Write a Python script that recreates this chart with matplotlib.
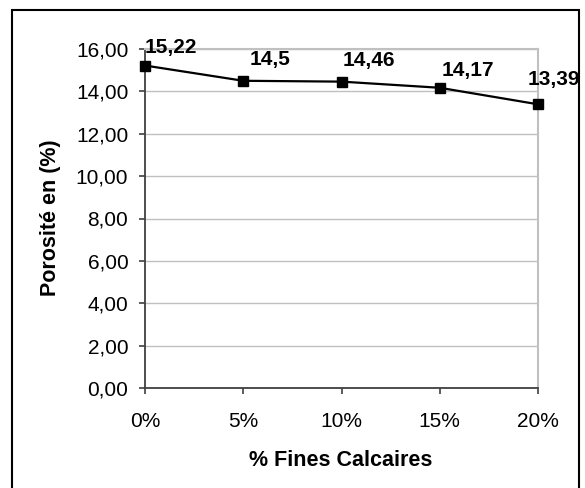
import matplotlib
matplotlib.use("Agg")
import matplotlib.pyplot as plt
from matplotlib.patches import Rectangle

categories = ["0%", "5%", "10%", "15%", "20%"]
porosite = [15.22, 14.5, 14.46, 14.17, 13.39]
labels = ["15,22", "14,5", "14,46", "14,17", "13,39"]
yticks = [0, 2, 4, 6, 8, 10, 12, 14, 16]
ytick_labels = ["0,00", "2,00", "4,00", "6,00", "8,00", "10,00", "12,00", "14,00", "16,00"]

# label offsets in pixels (layout)
label_offsets = [(26, 18), (27, 21), (27, 21), (28, 17), (16, 25)]

plt.rcParams['font.family'] = ['Liberation Sans', 'DejaVu Sans']

W, H = 585, 488
fig = plt.figure(figsize=(W / 100, H / 100), dpi=100)

# outer border
fig.patches.append(Rectangle((12 / W, -0.05), (579 - 12) / W, (H - 10) / H + 0.05,
                             transform=fig.transFigure, fill=False,
                             edgecolor='black', linewidth=1.5))

left, right, top, bottom = 145, 538, 49, 388
ax = fig.add_axes([left / W, 1 - bottom / H, (right - left) / W, (bottom - top) / H])

x = list(range(len(categories)))
ax.plot(x, porosite, color='black', linewidth=1.6, marker='s', markersize=6.5,
        clip_on=False, zorder=5)

for xi, yi, lab, (dx, dy) in zip(x, porosite, labels, label_offsets):
    ax.annotate(lab, (xi, yi), xytext=(dx * 0.72, dy * 0.72), textcoords='offset points',
                ha='center', va='center', fontsize=15, fontweight='bold',
                annotation_clip=False, zorder=6)

ax.set_xlim(0, 4)
ax.set_ylim(0, 16)
ax.set_xticks(x)
ax.set_xticklabels(categories, fontsize=15)
ax.set_yticks(yticks)
ax.set_yticklabels(ytick_labels, fontsize=15)
ax.yaxis.grid(True, color='#c0c0c0', linewidth=1.0)
ax.set_axisbelow(True)

for s in ['top', 'right']:
    ax.spines[s].set_color('#c0c0c0')
    ax.spines[s].set_linewidth(1.5)
for s in ['left', 'bottom']:
    ax.spines[s].set_color('#404040')
    ax.spines[s].set_linewidth(1.3)

ax.tick_params(axis='both', direction='out', length=4, width=1.2, color='#404040')
ax.tick_params(axis='y', pad=8)
ax.tick_params(axis='x', pad=13)

fig.text(341 / W, 1 - 460 / H, "% Fines Calcaires", ha='center', va='center',
         fontsize=15.5, fontweight='bold')
fig.text(51 / W, 1 - 218 / H, "Porosité en (%)", ha='center', va='center',
         fontsize=15.5, fontweight='bold', rotation=90)

fig.savefig("out.png", dpi=100)
